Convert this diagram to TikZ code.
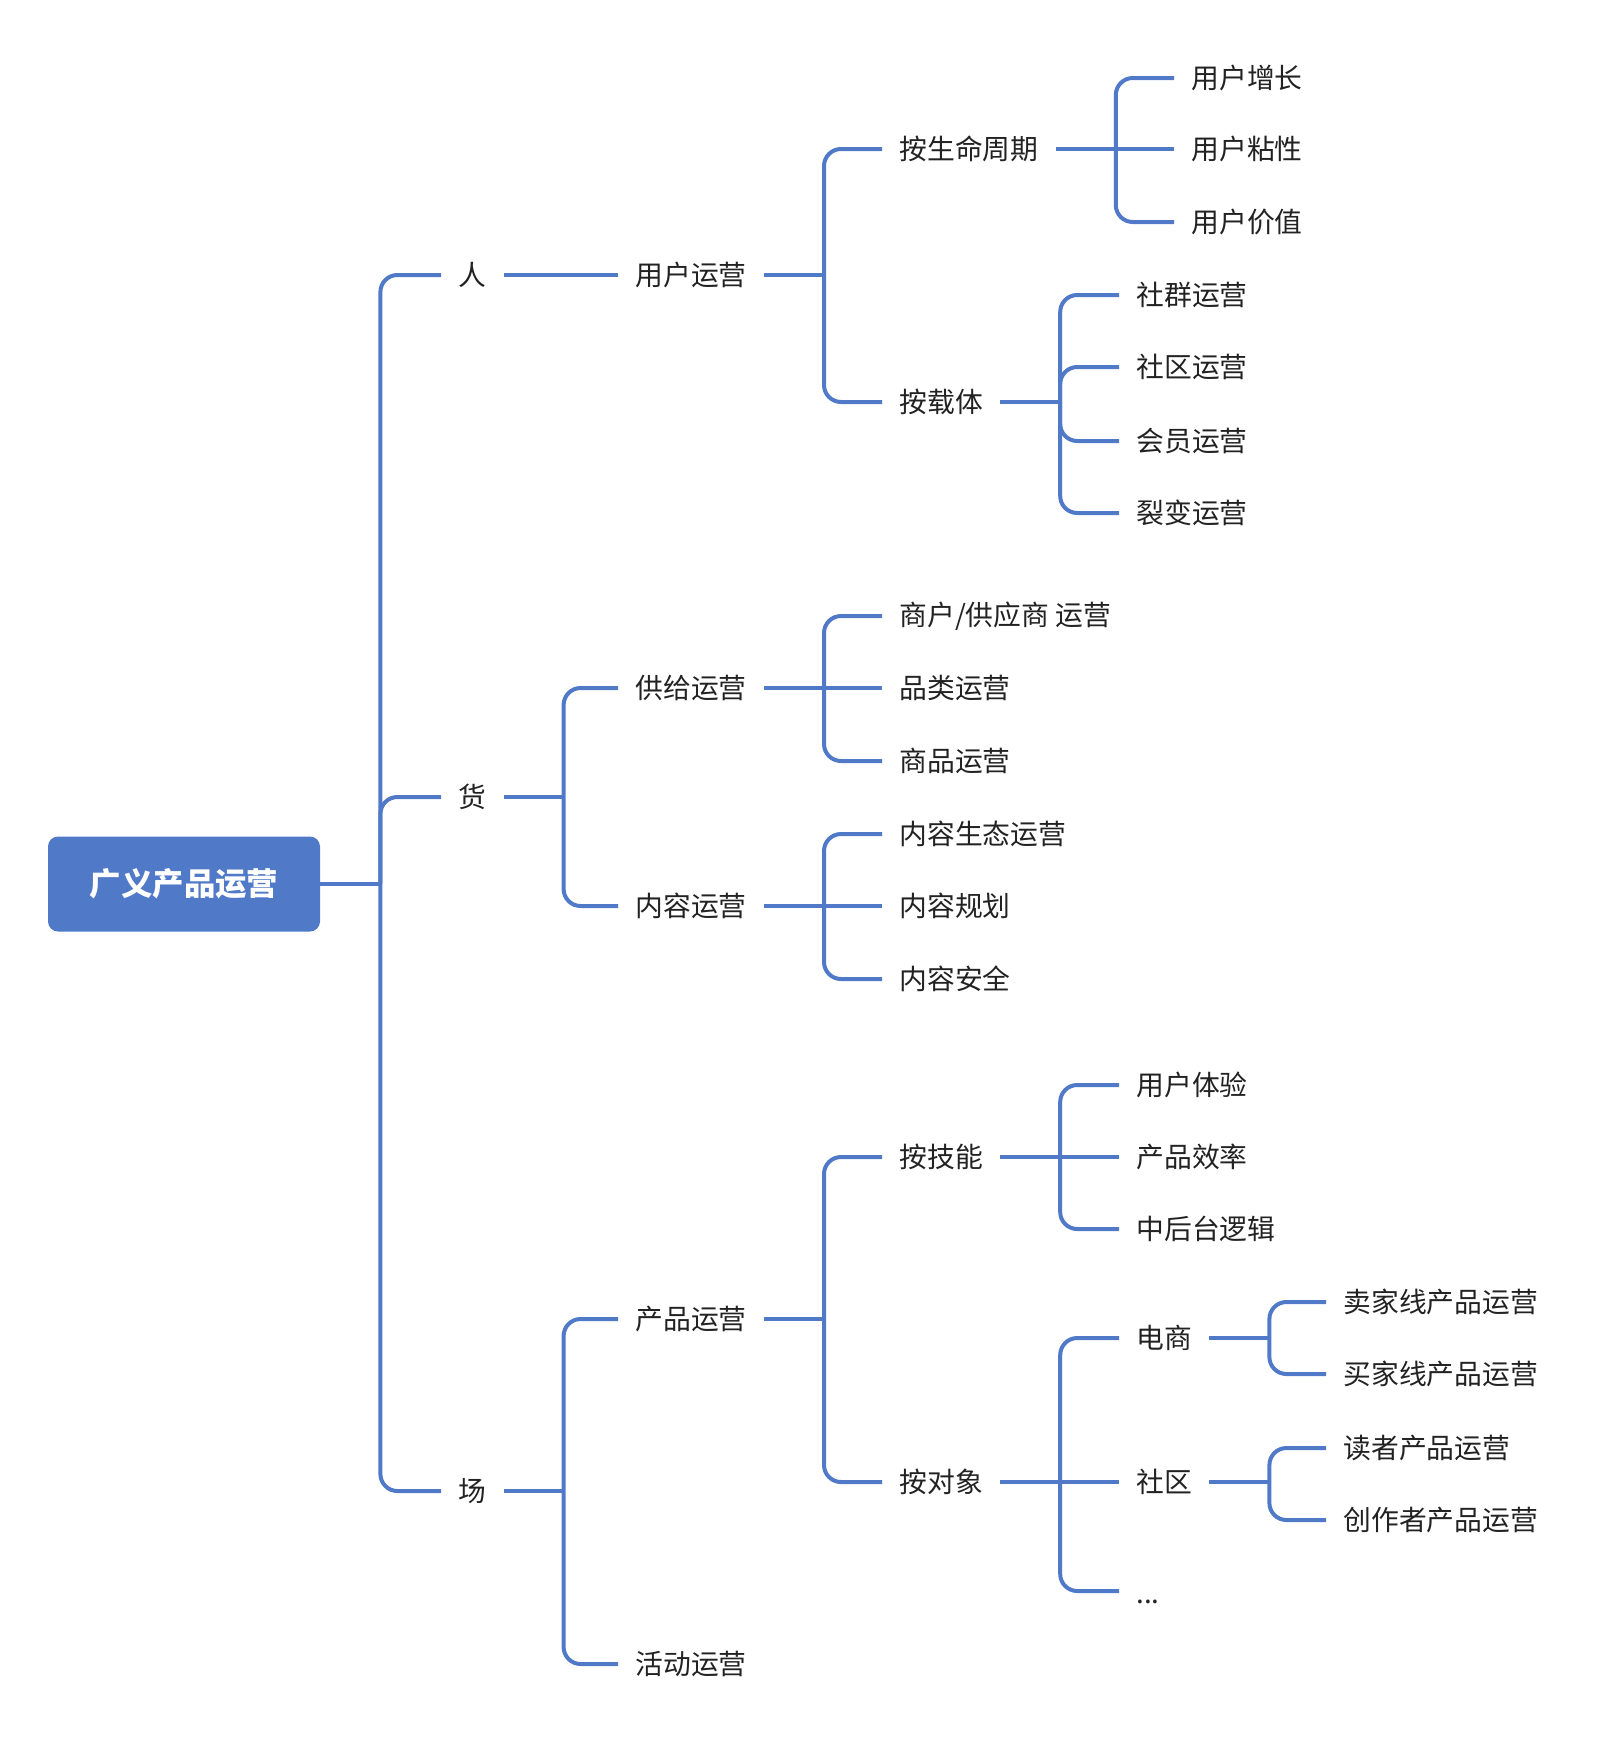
\documentclass[tikz,border=0pt]{standalone}
\usepackage{fontspec}
\setmainfont{Noto Sans CJK SC}
\definecolor{mapblue}{RGB}{80,122,200}
\definecolor{mapink}{RGB}{34,34,34}

\begin{document}
\begin{tikzpicture}[x=0.5pt, y=-0.5pt,
	link/.style={draw=mapblue, line width=2pt},
	branch/.style={link, rounded corners=8.5pt},
	item/.style={anchor=west, inner xsep=8.5pt, inner ysep=0pt, text=mapink,
		font=\fontsize{13.9}{16}\selectfont},
	rootbox/.style={fill=mapblue, rounded corners=5pt, text=white,
		minimum width=136pt, minimum height=47.5pt,
		font=\fontsize{15.7}{18}\selectfont\bfseries}]
	\useasboundingbox (0,0) rectangle (1604,1740);

	\node[rootbox] (root) at (184,884) {广义产品运营};

	% level 1
	\node[item] (ren)   at (441, 275) {人};
	\node[item] (huo)   at (441, 797) {货};
	\node[item] (chang) at (441,1491) {场};

	% level 2
	\node[item] (user)    at (618, 275) {用户运营};
	\node[item] (supply)  at (618, 688) {供给运营};
	\node[item] (content) at (618, 906) {内容运营};
	\node[item] (product) at (618,1319) {产品运营};
	\node[item] (event)   at (618,1664) {活动运营};

	% level 3
	\node[item] (cycle)   at (882, 149) {按生命周期};
	\node[item] (carrier) at (882, 402) {按载体};
	\node[item] (vendor)  at (882, 616) {商户/供应商 运营};
	\node[item] (category) at (882, 688) {品类运营};
	\node[item] (goods)   at (882, 761) {商品运营};
	\node[item] (ecology) at (882, 834) {内容生态运营};
	\node[item] (plan)    at (882, 906) {内容规划};
	\node[item] (safety)  at (882, 979) {内容安全};
	\node[item] (skill)   at (882,1157) {按技能};
	\node[item] (target)  at (882,1482) {按对象};

	% level 4
	\node[item] (growth)  at (1174,  78) {用户增长};
	\node[item] (sticky)  at (1174, 149) {用户粘性};
	\node[item] (value)   at (1174, 222) {用户价值};
	\node[item] (group)   at (1119, 295) {社群运营};
	\node[item] (forum)   at (1119, 367) {社区运营};
	\node[item] (member)  at (1119, 441) {会员运营};
	\node[item] (fission) at (1119, 513) {裂变运营};
	\node[item] (ux)      at (1119,1085) {用户体验};
	\node[item] (speed)   at (1119,1157) {产品效率};
	\node[item] (backend) at (1119,1229) {中后台逻辑};
	\node[item] (shop)    at (1119,1338) {电商};
	\node[item] (social)  at (1119,1482) {社区};
	\node[item] (more)    at (1119,1591) {\smash{\raisebox{-6.4pt}{...}}};

	% level 5
	\node[item] (seller)  at (1326,1302) {卖家线产品运营};
	\node[item] (buyer)   at (1326,1374) {买家线产品运营};
	\node[item] (reader)  at (1326,1448) {读者产品运营};
	\node[item] (author)  at (1326,1520) {创作者产品运营};

	% connectors
	\draw[link] (root.east) -- ++(60,0) coordinate (rootj);
	\foreach \c in {ren,huo,chang} \draw[branch] (rootj) |- (\c.west);

	\draw[link] (ren.east) -- (user.west);

	\draw[link] (huo.east) -- ++(60,0) coordinate (huoj);
	\foreach \c in {supply,content} \draw[branch] (huoj) |- (\c.west);

	\draw[link] (chang.east) -- ++(60,0) coordinate (changj);
	\foreach \c in {product,event} \draw[branch] (changj) |- (\c.west);

	\draw[link] (user.east) -- ++(60,0) coordinate (userj);
	\foreach \c in {cycle,carrier} \draw[branch] (userj) |- (\c.west);

	\draw[link] (supply.east) -- (category.west);
	\draw[link] (supply.east) -- ++(60,0) coordinate (supplyj);
	\foreach \c in {vendor,goods} \draw[branch] (supplyj) |- (\c.west);

	\draw[link] (content.east) -- (plan.west);
	\draw[link] (content.east) -- ++(60,0) coordinate (contentj);
	\foreach \c in {ecology,safety} \draw[branch] (contentj) |- (\c.west);

	\draw[link] (product.east) -- ++(60,0) coordinate (productj);
	\foreach \c in {skill,target} \draw[branch] (productj) |- (\c.west);

	\draw[link] (cycle.east) -- (sticky.west);
	\draw[link] (cycle.east) -- ++(60,0) coordinate (cyclej);
	\foreach \c in {growth,value} \draw[branch] (cyclej) |- (\c.west);

	\draw[link] (carrier.east) -- ++(60,0) coordinate (carrierj);
	\foreach \c in {group,forum,member,fission} \draw[branch] (carrierj) |- (\c.west);

	\draw[link] (skill.east) -- (speed.west);
	\draw[link] (skill.east) -- ++(60,0) coordinate (skillj);
	\foreach \c in {ux,backend} \draw[branch] (skillj) |- (\c.west);

	\draw[link] (target.east) -- (social.west);
	\draw[link] (target.east) -- ++(60,0) coordinate (targetj);
	\foreach \c in {shop,more} \draw[branch] (targetj) |- (\c.west);

	\draw[link] (shop.east) -- ++(60,0) coordinate (shopj);
	\foreach \c in {seller,buyer} \draw[branch] (shopj) |- (\c.west);

	\draw[link] (social.east) -- ++(60,0) coordinate (socialj);
	\foreach \c in {reader,author} \draw[branch] (socialj) |- (\c.west);
\end{tikzpicture}
\end{document}
